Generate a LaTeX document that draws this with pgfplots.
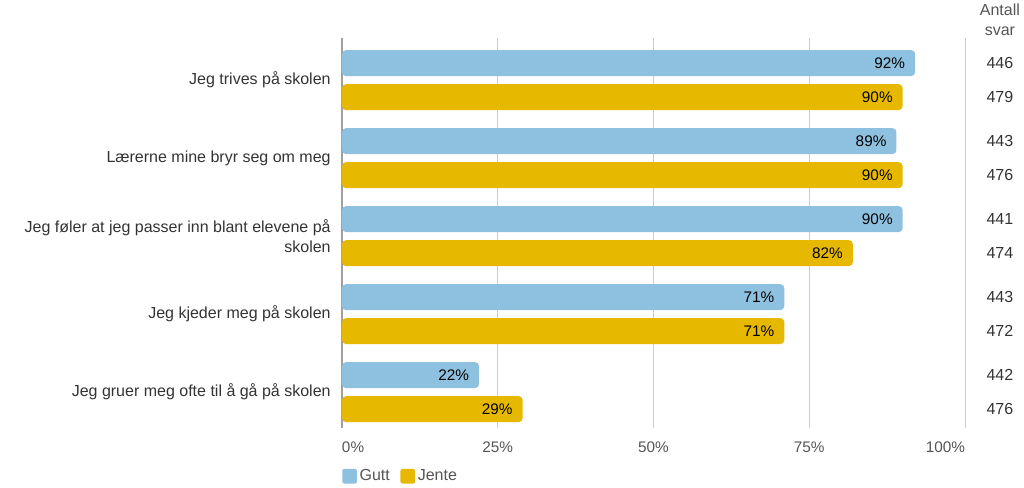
\documentclass[border=0pt]{standalone}
\usepackage{fontspec}
\setmainfont{Liberation Sans}
\usepackage{pgfplots}
\pgfplotsset{compat=1.18}
\definecolor{gutt}{HTML}{8EC1DF}
\definecolor{jente}{HTML}{E6B800}
\definecolor{gridc}{HTML}{CCCCCC}
\definecolor{axc}{HTML}{A0A0A0}
\definecolor{txt}{HTML}{333333}
\definecolor{ticktxt}{HTML}{555555}
\newcommand{\fs}{\fontsize{12}{15}\selectfont}
\newcommand{\fn}{\fontsize{11.5}{14}\selectfont}
\begin{document}
\begin{tikzpicture}
\useasboundingbox (-256.5pt,-44.25pt) rectangle (511.5pt,321pt);
\begin{axis}[
  at={(0,0)}, anchor=south west,
  scale only axis, width=467.25pt, height=292.5pt,
  /pgf/number format/assume math mode=true,
  xbar, xmin=0, xmax=100, ymin=-0.54, ymax=4.46, y dir=reverse,
  bar width=0.333,
  axis line style={draw=none},
  major tick length=0pt,
  xmajorgrids, grid style={draw=gridc, line width=0.6pt},
  extra x ticks={0}, extra x tick labels={},
  extra x tick style={grid style={draw=axc, line width=0.8pt}},
  xtick={0,25,50,75,100},
  xticklabels={\makebox[0pt][l]{0\%},25\%,50\%,75\%,\makebox[0pt][r]{100\%}},
  xticklabel style={font=\fn, text=ticktxt, yshift=-7pt},
  ytick={0,1,2,3,4},
  yticklabels={Jeg trives på skolen, Lærerne mine bryr seg om meg, {Jeg føler at jeg passer inn blant elevene på\\skolen}, Jeg kjeder meg på skolen, Jeg gruer meg ofte til å gå på skolen},
  yticklabel style={font=\fs, text=txt, align=right, xshift=-5pt},
  clip=false,
  nodes near coords={\pgfmathprintnumber{\pgfplotspointmeta}\%},
  nodes near coords style={anchor=east, xshift=-4pt, font=\fn, text=black},
  legend style={at={(0,0)}, anchor=north west, yshift=-29pt, draw=none, inner sep=0pt, font=\fs, text=ticktxt, legend columns=2,
    /tikz/every even column/.append style={column sep=6pt}},
  legend image code/.code={\fill[#1, rounded corners=1.5pt] (0pt,-5.5pt) rectangle (11pt,5.5pt);},
]
\addplot[fill=gutt, draw=none, rounded corners=3pt, bar shift=-0.218] coordinates {(92,0) (89,1) (90,2) (71,3) (22,4)};
\addplot[fill=jente, draw=none, rounded corners=3pt, bar shift=0.218] coordinates {(90,0) (90,1) (82,2) (71,3) (29,4)};
\legend{Gutt, Jente}
\foreach \yy/\nn in {-0.218/446, 0.218/479, 0.782/443, 1.218/476, 1.782/441, 2.218/474, 2.782/443, 3.218/472, 3.782/442, 4.218/476}{
  \edef\tmp{\noexpand\node[font=\noexpand\fs, text=txt] at (axis cs:105.6,\yy) {\nn};}\tmp
}
\node[font=\fs, text=ticktxt, align=center] at (axis cs:105.6,-0.776) {Antall\\svar};
\end{axis}
\end{tikzpicture}
\end{document}
